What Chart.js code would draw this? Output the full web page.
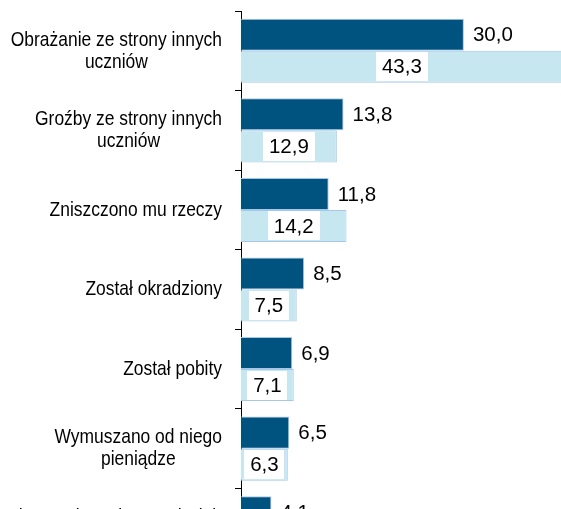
<!DOCTYPE html>
<html>
<head>
<meta charset="utf-8">
<script src="https://cdn.jsdelivr.net/npm/chart.js@4.4.1/dist/chart.umd.min.js"></script>
<style>
  html, body { margin: 0; padding: 0; background: #fff; overflow: hidden; }
  #wrap { position: relative; width: 561px; height: 576px; }
</style>
</head>
<body>
<div id="wrap"><canvas id="chart"></canvas></div>
<script>
"use strict";

/* ── data ── */
const categories = [
  ["Obrażanie ze strony innych", "uczniów"],
  ["Groźby ze strony innych", "uczniów"],
  ["Zniszczono mu rzeczy"],
  ["Został okradziony"],
  ["Został pobity"],
  ["Wymuszano od niego", "pieniądze"],
  ["Użyto wobec niego noża lub", "innej broni"],
];
const seriesA = [30.0, 13.8, 11.8, 8.5, 6.9, 6.5, 4.1];
const seriesB = [43.3, 12.9, 14.2, 7.5, 7.1, 6.3, 3.0];

const DARK = "#00527f";
const LIGHT = "#c6e7ef";
const EDGE = "#a6c8e8";
const FONT = "'Liberation Sans', Arial, sans-serif";
const SQUEEZE = 0.83; // narrow look of the category names

const fmt = (v) => v.toFixed(1).replace(".", ",");

/* ── labels: values + category names ── */
const labelPlugin = {
  id: "labels",
  afterDatasetsDraw(chart) {
    const ctx = chart.ctx;
    ctx.save();
    ctx.font = "20.5px " + FONT;
    ctx.textBaseline = "middle";

    chart.getDatasetMeta(0).data.forEach((bar, i) => {
      ctx.fillStyle = "#000";
      ctx.textAlign = "left";
      ctx.fillText(fmt(seriesA[i]), bar.x + 9, bar.y + 1);
    });

    chart.getDatasetMeta(1).data.forEach((bar, i) => {
      const txt = fmt(seriesB[i]);
      const w = ctx.measureText(txt).width + 12;
      const cx = (bar.base + bar.x) / 2;
      const h = bar.height - 3;
      ctx.fillStyle = "#fff";
      ctx.fillRect(Math.round(cx - w / 2), Math.round(bar.y - h / 2), Math.round(w), Math.round(h));
      ctx.fillStyle = "#000";
      ctx.textAlign = "center";
      ctx.fillText(txt, cx, bar.y + 1);
    });

    // category names: block right-aligned, lines centred inside the block
    const y = chart.scales.y;
    ctx.font = "21px " + FONT;
    ctx.fillStyle = "#000";
    ctx.textAlign = "center";
    categories.forEach((lines, i) => {
      const cy = y.getPixelForValue(i);
      const wMax = Math.max(...lines.map((l) => ctx.measureText(l).width)) * SQUEEZE;
      const cx = 222 - wMax / 2;
      const lh = 22;
      const top = cy - ((lines.length - 1) * lh) / 2;
      lines.forEach((l, k) => {
        ctx.save();
        ctx.translate(cx, top + k * lh);
        ctx.scale(SQUEEZE, 1);
        ctx.fillText(l, 0, 0);
        ctx.restore();
      });
    });
    ctx.restore();
  },
};

new Chart(document.getElementById("chart"), {
  type: "bar",
  data: {
    labels: categories.map((c) => c.join(" ")),
    datasets: [
      {
        data: seriesA,
        backgroundColor: DARK,
        borderColor: EDGE,
        borderWidth: 1,
        barPercentage: 1,
        categoryPercentage: 0.805,
      },
      {
        data: seriesB,
        backgroundColor: LIGHT,
        borderColor: EDGE,
        borderWidth: 1,
        barPercentage: 1,
        categoryPercentage: 0.805,
      },
    ],
  },
  options: {
    indexAxis: "y",
    responsive: true,
    maintainAspectRatio: false,
    animation: false,
    layout: { padding: { top: 11, bottom: 8, left: 0, right: 0 } },
    plugins: { legend: { display: false }, tooltip: { enabled: false } },
    scales: {
      x: { display: false, min: 0, max: 43.07 },
      y: {
        afterFit(scale) { scale.width = 241; },
        border: { color: "#000", width: 1 },
        grid: {
          offset: true,
          drawOnChartArea: false,
          drawTicks: true,
          tickLength: 6,
          color: "#000",
        },
        ticks: { color: "rgba(0,0,0,0)", font: { size: 1 }, padding: 0 },
      },
    },
  },
  plugins: [labelPlugin],
});
</script>
</body>
</html>
